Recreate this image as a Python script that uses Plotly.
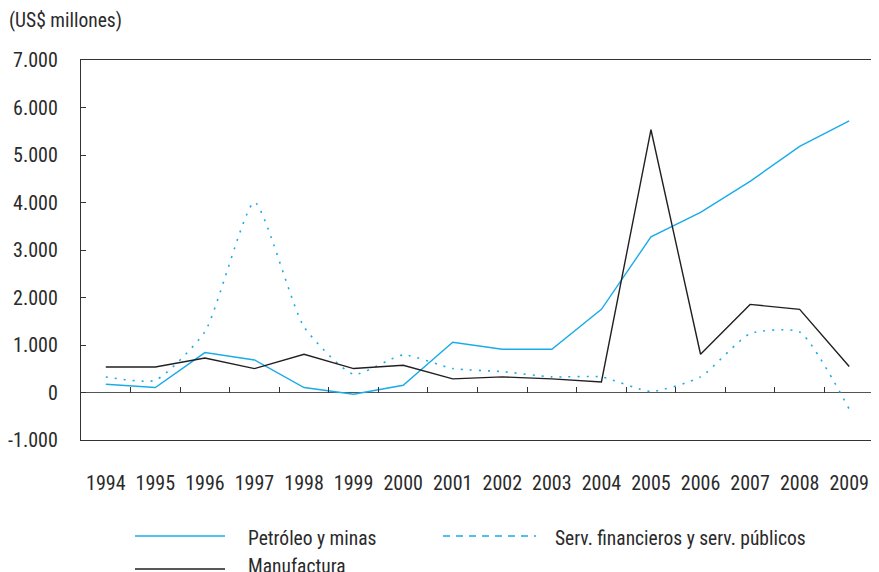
import plotly.graph_objects as go

years = ["1994", "1995", "1996", "1997", "1998", "1999", "2000", "2001",
         "2002", "2003", "2004", "2005", "2006", "2007", "2008", "2009"]
petroleo = [175, 105, 840, 685, 105, -36, 153, 1057, 910, 910, 1750, 3277, 3794, 4446, 5181, 5720]
serv_fin = [328, 258, 1280, 4004, 1380, 384, 790, 504, 440, 328, 328, 21, 328, 1240, 1273, -350]
manufactura = [538, 538, 727, 504, 805, 504, 574, 286, 328, 286, 223, 5532, 805, 1855, 1750, 546]

y_tick_vals = [-1000, 0, 1000, 2000, 3000, 4000, 5000, 6000, 7000]
y_tick_text = ["-1.000", "0", "1.000", "2.000", "3.000", "4.000", "5.000", "6.000", "7.000"]
y_range = [-1000, 7000]

BLUE = "#1AACE8"
BLACK = "#231F20"
TXT = "#2a2a2a"
FONT = "Roboto Condensed"
FS = 20
FS_LEG = 19.5

# page body has an 8px default margin: figure is placed at (8, 8)
OFF = 8
W, H = 879 - OFF, 572 - OFF
L, T, R, B = 81 - OFF, 60 - OFF, 5, 132

fig = go.Figure()
fig.add_trace(go.Scatter(x=years, y=serv_fin, mode="lines", name="Serv. financieros y serv. públicos",
                         line=dict(color=BLUE, width=1.6, dash="2px,7px", shape="spline", smoothing=0.55),
                         showlegend=False))
fig.add_trace(go.Scatter(x=years, y=petroleo, mode="lines", name="Petróleo y minas",
                         line=dict(color=BLUE, width=1.4), showlegend=False))
fig.add_trace(go.Scatter(x=years, y=manufactura, mode="lines", name="Manufactura",
                         line=dict(color=BLACK, width=1.4), showlegend=False))
# invisible trace carrying the zero-line tick axis
fig.add_trace(go.Scatter(x=years, y=[None] * len(years), xaxis="x2", mode="lines",
                         showlegend=False, hoverinfo="skip"))

zero_pos = (0 - y_range[0]) / (y_range[1] - y_range[0])

fig.update_layout(
    width=W, height=H,
    margin=dict(l=L, r=R, t=T, b=B, autoexpand=False),
    paper_bgcolor="white", plot_bgcolor="white",
    font=dict(family=FONT, size=FS, color=TXT),
    title=dict(text="(US$ millones)", x=(9 - OFF) / W, xanchor="left", xref="container",
               y=1 - (20 - OFF) / H, yanchor="middle", yref="container",
               font=dict(family=FONT, size=FS_LEG, color=TXT)),
    xaxis=dict(type="category", categoryorder="array", categoryarray=years,
               range=[-0.5, len(years) - 0.5], automargin=False,
               showline=True, linecolor="#333", linewidth=1.3, mirror=True,
               showgrid=False, zeroline=False, ticks="",
               ticklabelstandoff=25, tickfont=dict(family=FONT, size=FS, color=TXT)),
    xaxis2=dict(type="category", categoryorder="array", categoryarray=years,
                range=[-0.5, len(years) - 0.5], overlaying="x", anchor="free",
                position=zero_pos, side="bottom", automargin=False,
                showline=False, showgrid=False, zeroline=False, showticklabels=False,
                ticks="inside", tickson="boundaries", ticklen=6, tickwidth=1.3, tickcolor="#333"),
    yaxis=dict(range=y_range, tickvals=y_tick_vals, ticktext=y_tick_text, automargin=False,
               showline=True, linecolor="#333", linewidth=1.3, mirror=True,
               showgrid=False, zeroline=True, zerolinecolor="#555", zerolinewidth=1.3,
               ticks="inside", ticklen=5, tickwidth=1.3, tickcolor="#333",
               ticklabelstandoff=18, tickfont=dict(family=FONT, size=FS, color=TXT)),
)

# manual legend (paper coordinates, from page pixels)
PX0, PX1 = 81, 879 - R
PY0, PY1 = 60, 572 - B

def px_x(x):
    return (x - PX0) / (PX1 - PX0)

def px_y(y):
    return (PY1 - y) / (PY1 - PY0)

legend_items = [
    ("Petróleo y minas", BLUE, "solid", 135, 225, 246, 536, 538),
    ("Serv. financieros y serv. públicos", BLUE, "7px,6px", 443, 536, 553, 536, 538),
    ("Manufactura", BLACK, "solid", 135, 225, 246, 569, 566),
]
for label, color, dash, x0, x1, tx, ly, ty in legend_items:
    fig.add_shape(type="line", xref="paper", yref="paper",
                  x0=px_x(x0), x1=px_x(x1), y0=px_y(ly), y1=px_y(ly),
                  line=dict(color=color, width=1.4, dash=dash))
    fig.add_annotation(xref="paper", yref="paper", x=px_x(tx), y=px_y(ty),
                       text=label, showarrow=False, xanchor="left", yanchor="middle",
                       font=dict(family=FONT, size=FS_LEG, color=TXT))

fig.write_html("out.html")
